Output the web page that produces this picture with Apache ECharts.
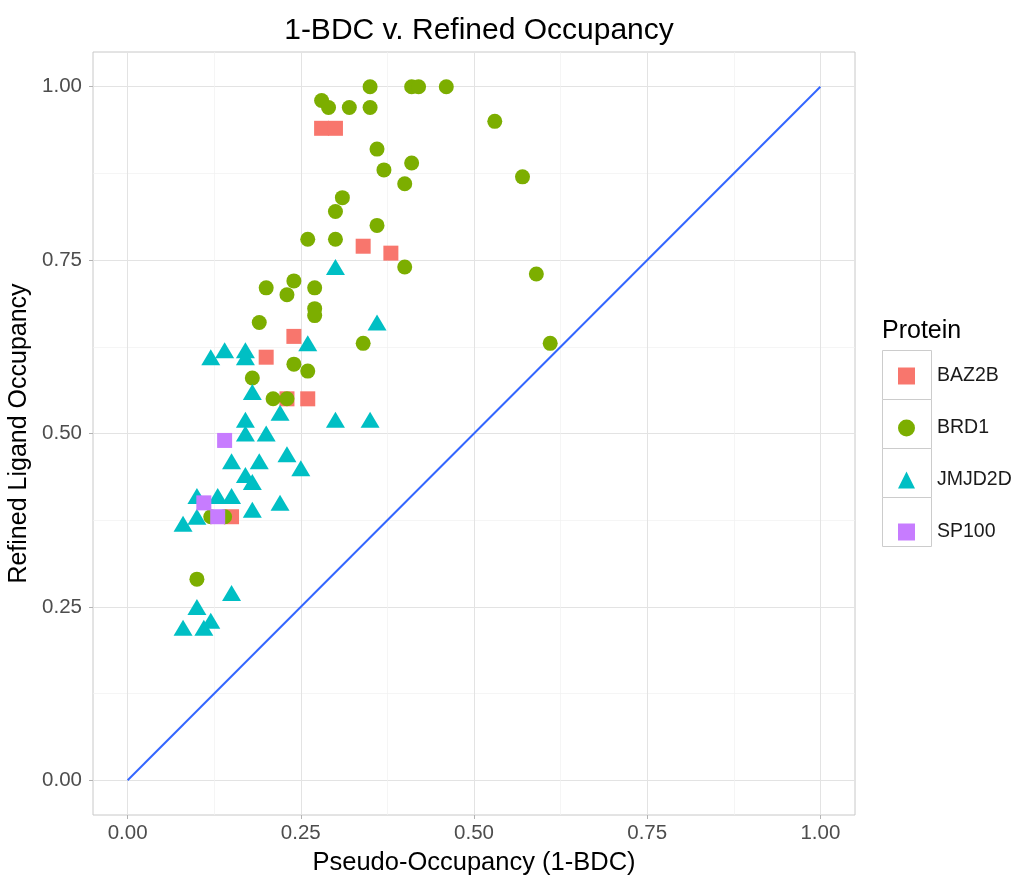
<!DOCTYPE html>
<html>
<head>
<meta charset="utf-8">
<script src="https://cdn.jsdelivr.net/npm/echarts@6/dist/echarts.min.js"></script>
<style>
  html, body { margin: 0; padding: 0; background: #fff; }
  #chart { width: 1018px; height: 879px; }
</style>
</head>
<body>
<div id="chart"></div>
<script>
// Pseudo-occupancy (x) and refined ligand occupancy (y), per protein
const baz2bX = [0.28, 0.30, 0.34, 0.38, 0.24, 0.20, 0.23, 0.26, 0.15];
const baz2bY = [0.94, 0.94, 0.77, 0.76, 0.64, 0.61, 0.55, 0.55, 0.38];

const brd1X = [0.35, 0.41, 0.42, 0.46, 0.28, 0.29, 0.32, 0.35, 0.53, 0.36, 0.37, 0.41, 0.40,
  0.57, 0.31, 0.30, 0.36, 0.26, 0.30, 0.40, 0.59, 0.20, 0.24, 0.23, 0.27, 0.27, 0.27, 0.19,
  0.34, 0.61, 0.24, 0.26, 0.18, 0.21, 0.23, 0.12, 0.14, 0.10];
const brd1Y = [1.00, 1.00, 1.00, 1.00, 0.98, 0.97, 0.97, 0.97, 0.95, 0.91, 0.88, 0.89, 0.86,
  0.87, 0.84, 0.82, 0.80, 0.78, 0.78, 0.74, 0.73, 0.71, 0.72, 0.70, 0.71, 0.68, 0.67, 0.66,
  0.63, 0.63, 0.60, 0.59, 0.58, 0.55, 0.55, 0.38, 0.38, 0.29];

const jmjd2dX = [0.30, 0.36, 0.26, 0.12, 0.14, 0.17, 0.17, 0.18, 0.22, 0.30, 0.35, 0.17, 0.17,
  0.20, 0.15, 0.19, 0.23, 0.25, 0.17, 0.18, 0.10, 0.13, 0.15, 0.18, 0.22, 0.08, 0.10, 0.15,
  0.10, 0.08, 0.11, 0.12];
const jmjd2dY = [0.74, 0.66, 0.63, 0.61, 0.62, 0.62, 0.61, 0.56, 0.53, 0.52, 0.52, 0.52, 0.50,
  0.50, 0.46, 0.46, 0.47, 0.45, 0.44, 0.43, 0.41, 0.41, 0.41, 0.39, 0.40, 0.37, 0.38, 0.27,
  0.25, 0.22, 0.22, 0.23];

const sp100X = [0.14, 0.11, 0.13];
const sp100Y = [0.49, 0.40, 0.38];

// y = x reference line
const lineX = [0, 1];
const lineY = [0, 1];

const majorTicks = [0, 0.25, 0.5, 0.75, 1];
const minorTicks = [0.125, 0.375, 0.625, 0.875];
const proteins = ['BAZ2B', 'BRD1', 'JMJD2D', 'SP100'];

const FONT = '"Liberation Sans", Arial, sans-serif';
const zip = (xs, ys) => xs.map((x, i) => [x, ys[i]]);

const chart = echarts.init(document.getElementById('chart'));

const majorAxis = (extra) => Object.assign({
  type: 'value',
  min: -0.05,
  max: 1.05,
  axisLine: { show: false, onZero: false },
  axisTick: { show: true, length: 4, lineStyle: { color: '#b3b3b3' }, customValues: majorTicks },
  splitLine: { show: true, lineStyle: { color: '#e3e3e3', width: 1 } }
}, extra);

const minorAxis = (extra) => Object.assign({
  type: 'value',
  min: -0.05,
  max: 1.05,
  axisLine: { show: false, onZero: false },
  axisTick: { show: false, customValues: minorTicks },
  axisLabel: { show: false, customValues: minorTicks },
  splitLine: { show: true, lineStyle: { color: '#f0f0f0', width: 0.7 } }
}, extra);

const legendBoxes = proteins.map((p, i) => ({
  type: 'rect',
  left: 882,
  top: 350 + i * 49,
  shape: { width: 49, height: 49 },
  style: { fill: '#fff', stroke: '#cccccc', lineWidth: 1 },
  z: -1
}));

const option = {
  animation: false,
  backgroundColor: '#fff',
  title: {
    text: '1-BDC v. Refined Occupancy',
    left: 474,
    textAlign: 'center',
    top: 11,
    textStyle: { color: '#000', fontSize: 30, fontWeight: 'normal', fontFamily: FONT }
  },
  grid: {
    left: 93, right: 163, top: 52, bottom: 64,
    outerBoundsMode: 'none',
    containLabel: false,
    show: true, borderColor: '#c8c8c8', borderWidth: 1, backgroundColor: 'transparent'
  },
  xAxis: [
    majorAxis({
      name: 'Pseudo-Occupancy (1-BDC)',
      nameLocation: 'middle',
      nameGap: 35,
      nameTextStyle: { color: '#000', fontSize: 25.5, fontFamily: FONT },
      axisLabel: {
        color: '#4d4d4d', fontSize: 20.5, fontFamily: FONT, margin: 8,
        customValues: majorTicks, formatter: (v) => v.toFixed(2)
      }
    }),
    minorAxis({ position: 'bottom' })
  ],
  yAxis: [
    majorAxis({
      name: 'Refined Ligand Occupancy',
      nameLocation: 'middle',
      nameGap: 52,
      nameTextStyle: { color: '#000', fontSize: 25, fontFamily: FONT },
      axisLabel: {
        color: '#4d4d4d', fontSize: 20.5, fontFamily: FONT, margin: 11,
        customValues: majorTicks, formatter: (v) => v.toFixed(2)
      }
    }),
    minorAxis({ position: 'left' })
  ],
  legend: {
    data: proteins,
    orient: 'vertical',
    left: 898,
    top: 366,
    padding: 0,
    itemWidth: 17,
    itemHeight: 17,
    itemGap: 32,
    textStyle: { color: '#1a1a1a', fontSize: 19.5, fontFamily: FONT, padding: [0, 0, 0, 17], lineHeight: 17 }
  },
  graphic: [
    {
      type: 'text',
      left: 882,
      top: 319,
      style: { text: 'Protein', fill: '#000', font: '25px ' + FONT }
    }
  ].concat(legendBoxes),
  series: [
    {
      name: 'y = x',
      type: 'line',
      data: zip(lineX, lineY),
      showSymbol: false,
      lineStyle: { color: '#3366ff', width: 2 },
      z: 1
    },
    {
      name: 'BAZ2B', type: 'scatter', symbol: 'rect', symbolSize: 15,
      itemStyle: { color: '#f8766d', opacity: 1 },
      data: zip(baz2bX, baz2bY), z: 2
    },
    {
      name: 'BRD1', type: 'scatter', symbol: 'circle', symbolSize: 15,
      itemStyle: { color: '#7cae00', opacity: 1 },
      data: zip(brd1X, brd1Y), z: 3
    },
    {
      name: 'JMJD2D', type: 'scatter', symbol: 'triangle', symbolSize: [19, 16],
      itemStyle: { color: '#00bfc4', opacity: 1 },
      data: zip(jmjd2dX, jmjd2dY), z: 4
    },
    {
      name: 'SP100', type: 'scatter', symbol: 'rect', symbolSize: 15,
      itemStyle: { color: '#c77cff', opacity: 1 },
      data: zip(sp100X, sp100Y), z: 5
    }
  ]
};

chart.setOption(option);
</script>
</body>
</html>
